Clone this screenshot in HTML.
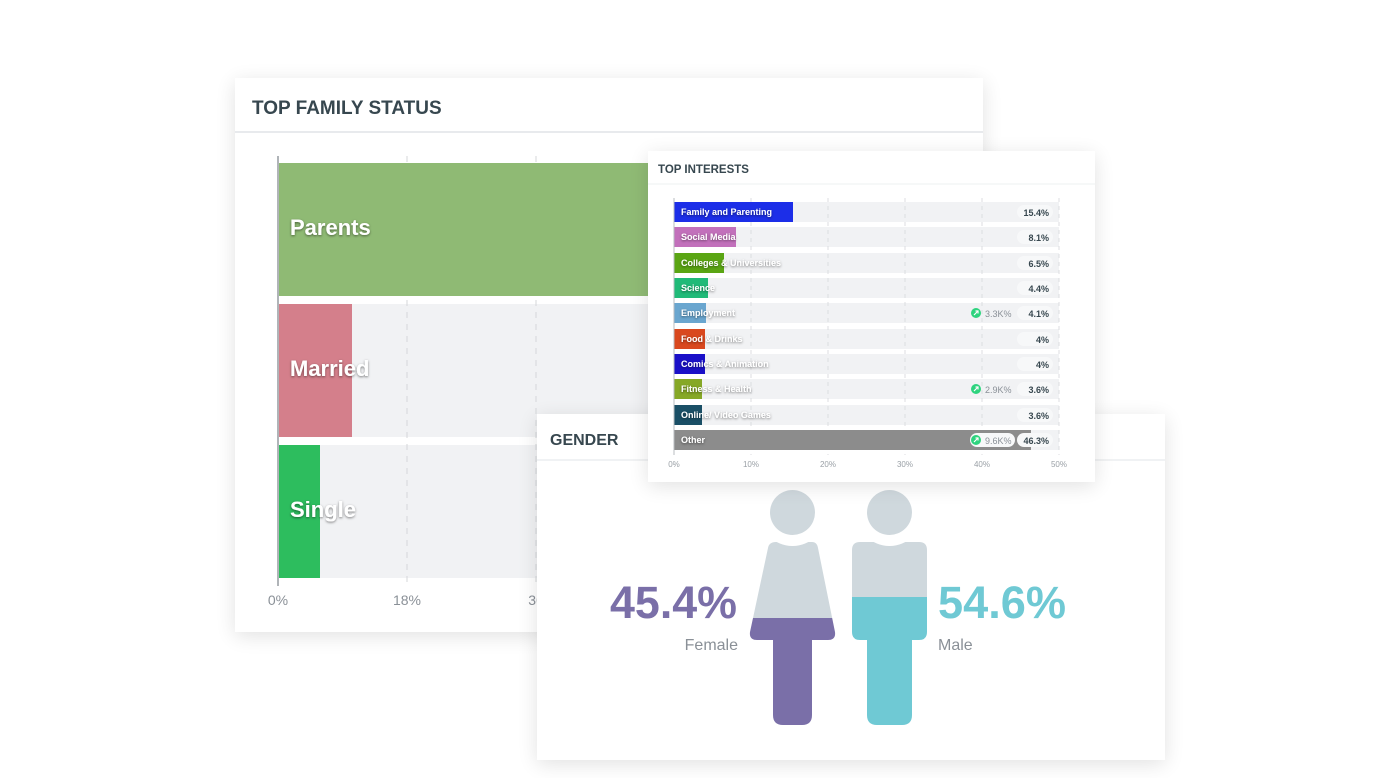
<!DOCTYPE html>
<html><head><meta charset="utf-8"><style>
html,body{margin:0;padding:0;background:#fff;}
svg{display:block;font-family:"Liberation Sans",Arial,sans-serif;}
</style></head><body>
<svg width="1400" height="778" viewBox="0 0 1400 778" xmlns="http://www.w3.org/2000/svg">
<defs>
<filter id="sh" x="-10%" y="-10%" width="120%" height="120%"><feGaussianBlur in="SourceAlpha" stdDeviation="10"/><feOffset dy="4"/><feComponentTransfer><feFuncA type="linear" slope="0.12"/></feComponentTransfer><feMerge><feMergeNode/><feMergeNode in="SourceGraphic"/></feMerge></filter>
<filter id="ts"><feDropShadow dx="0" dy="1" stdDeviation="1.2" flood-color="#000" flood-opacity="0.5"/></filter>
</defs>
<rect width="1400" height="778" fill="#fff"/>

<!-- Family status card -->
<g filter="url(#sh)"><rect x="235" y="78" width="748" height="554" fill="#fff"/></g>
<text x="252" y="114" font-size="19" font-weight="bold" fill="#37474f">TOP FAMILY STATUS</text>
<line x1="235" y1="132" x2="983" y2="132" stroke="#e8eaed" stroke-width="2"/>
<rect x="278" y="163" width="705" height="133" fill="#f1f2f4"/>
<rect x="278" y="304" width="705" height="133" fill="#f1f2f4"/>
<rect x="278" y="445" width="705" height="133" fill="#f1f2f4"/>
<g stroke="#d5d7da" stroke-dasharray="6,6"><line x1="407" y1="156" x2="407" y2="585"/><line x1="536" y1="156" x2="536" y2="585"/></g>
<rect x="278" y="163" width="400" height="133" fill="#8fba74"/>
<rect x="278" y="304" width="74" height="133" fill="#d47f8b"/>
<rect x="278" y="445" width="42" height="133" fill="#2dbd5e"/>
<line x1="278" y1="156" x2="278" y2="586" stroke="#b0b4b8" stroke-width="2"/>
<g font-size="22" font-weight="bold" fill="#fff" filter="url(#ts)"><text x="290" y="235">Parents</text><text x="290" y="376">Married</text><text x="290" y="517">Single</text></g>
<g font-size="14" fill="#8a9097" text-anchor="middle"><text x="278" y="605">0%</text><text x="407" y="605">18%</text><text x="536" y="605">36</text></g>

<!-- Gender card -->
<g filter="url(#sh)"><rect x="537" y="414" width="628" height="346" fill="#fff"/></g>
<text x="550" y="445" font-size="16" font-weight="bold" fill="#37474f">GENDER</text>
<line x1="537" y1="460" x2="1165" y2="460" stroke="#eceef0" stroke-width="1.5"/>
<clipPath id="fc"><path d="M776 542 L812 542 Q817 542 818 548 L835 632 Q836 640 828 640 L812 640 L812 715 Q812 725 802 725 L783 725 Q773 725 773 715 L773 640 L757 640 Q749 640 750 632 L768 548 Q769 542 776 542 Z"/></clipPath>
<g clip-path="url(#fc)"><rect x="740" y="530" width="110" height="88" fill="#cfd8dd"/><rect x="740" y="618" width="110" height="120" fill="#7a6fa8"/></g>
<clipPath id="mc"><path d="M860 542 L919 542 Q927 542 927 550 L927 632 Q927 640 919 640 L912 640 L912 715 Q912 725 902 725 L877 725 Q867 725 867 715 L867 640 L860 640 Q852 640 852 632 L852 550 Q852 542 860 542 Z"/></clipPath>
<g clip-path="url(#mc)"><rect x="845" y="530" width="90" height="67" fill="#cfd8dd"/><rect x="845" y="597" width="90" height="140" fill="#6fc9d4"/></g>
<circle cx="792.5" cy="513" r="33" fill="#fff"/><circle cx="889.5" cy="513" r="33" fill="#fff"/>
<circle cx="792.5" cy="512.5" r="22.5" fill="#cfd8dd"/><circle cx="889.5" cy="512.5" r="22.5" fill="#cfd8dd"/>
<text x="737" y="618" font-size="45" font-weight="bold" fill="#7a6fa8" text-anchor="end" textLength="127" lengthAdjust="spacingAndGlyphs">45.4%</text>
<text x="738" y="650" font-size="16" fill="#8a9097" text-anchor="end">Female</text>
<text x="938" y="618" font-size="45" font-weight="bold" fill="#6fc9d4" textLength="128" lengthAdjust="spacingAndGlyphs">54.6%</text>
<text x="938" y="650" font-size="16" fill="#8a9097">Male</text>

<!-- Top interests card -->
<g filter="url(#sh)"><rect x="648" y="151" width="447" height="331" fill="#fff"/></g>
<text x="658" y="173" font-size="11.5" font-weight="bold" fill="#37474f">TOP INTERESTS</text>
<line x1="648" y1="184" x2="1095" y2="184" stroke="#eef0f2" stroke-width="1"/>
<g fill="#f1f2f4">
<rect x="674" y="202" width="385" height="20"/><rect x="674" y="227" width="385" height="20"/><rect x="674" y="253" width="385" height="20"/><rect x="674" y="278" width="385" height="20"/><rect x="674" y="303" width="385" height="20"/><rect x="674" y="329" width="385" height="20"/><rect x="674" y="354" width="385" height="20"/><rect x="674" y="379" width="385" height="20"/><rect x="674" y="405" width="385" height="20"/><rect x="674" y="430" width="385" height="20"/>
</g>
<g stroke="#dcdee1" stroke-dasharray="4,4"><line x1="751" y1="198" x2="751" y2="455"/><line x1="828" y1="198" x2="828" y2="455"/><line x1="905" y1="198" x2="905" y2="455"/><line x1="982" y1="198" x2="982" y2="455"/><line x1="1059" y1="198" x2="1059" y2="455"/></g>
<rect x="674" y="202" width="119" height="20" fill="#1c2ee8"/>
<rect x="674" y="227" width="62" height="20" fill="#c270bb"/>
<rect x="674" y="253" width="50" height="20" fill="#5aa513"/>
<rect x="674" y="278" width="34" height="20" fill="#20ba78"/>
<rect x="674" y="303" width="32" height="20" fill="#6aa6cf"/>
<rect x="674" y="329" width="31" height="20" fill="#d9481e"/>
<rect x="674" y="354" width="31" height="20" fill="#1a10c8"/>
<rect x="674" y="379" width="28" height="20" fill="#86a826"/>
<rect x="674" y="405" width="28" height="20" fill="#1a4f66"/>
<rect x="674" y="430" width="357" height="20" fill="#8c8c8c"/>
<line x1="674" y1="198" x2="674" y2="455" stroke="#b8bcc0" stroke-width="1"/>
<g font-size="9" font-weight="bold" fill="#fff" filter="url(#ts)">
<text x="681" y="215">Family and Parenting</text><text x="681" y="240">Social Media</text><text x="681" y="266">Colleges &amp; Universities</text><text x="681" y="291">Science</text><text x="681" y="316">Employment</text><text x="681" y="342">Food &amp; Drinks</text><text x="681" y="367">Comics &amp; Animation</text><text x="681" y="392">Fitness &amp; Health</text><text x="681" y="418">Online/ Video Games</text><text x="681" y="443">Other</text>
</g>
<g fill="#f7f8f9"><rect x="1017" y="205" width="36" height="14" rx="7"/><rect x="1017" y="230" width="36" height="14" rx="7"/><rect x="1017" y="256" width="36" height="14" rx="7"/><rect x="1017" y="281" width="36" height="14" rx="7"/><rect x="1017" y="306" width="36" height="14" rx="7"/><rect x="1017" y="332" width="36" height="14" rx="7"/><rect x="1017" y="357" width="36" height="14" rx="7"/><rect x="1017" y="382" width="36" height="14" rx="7"/><rect x="1017" y="408" width="36" height="14" rx="7"/><rect x="1017" y="433" width="36" height="14" rx="7"/><rect x="970" y="433" width="45" height="14" rx="7"/></g>
<g font-size="9" font-weight="bold" fill="#37474f" text-anchor="end">
<text x="1049" y="216">15.4%</text><text x="1049" y="241">8.1%</text><text x="1049" y="267">6.5%</text><text x="1049" y="292">4.4%</text><text x="1049" y="317">4.1%</text><text x="1049" y="343">4%</text><text x="1049" y="368">4%</text><text x="1049" y="393">3.6%</text><text x="1049" y="419">3.6%</text><text x="1049" y="444">46.3%</text>
</g>
<g fill="#2ed37e"><circle cx="976" cy="313" r="5"/><circle cx="976" cy="389" r="5"/><circle cx="976" cy="440" r="5"/></g>
<g stroke="#fff" stroke-width="1.2"><path d="M974 315 L978 311 M975.5 311 H978 V313.5"/><path d="M974 391 L978 387 M975.5 387 H978 V389.5"/><path d="M974 442 L978 438 M975.5 438 H978 V440.5"/></g>
<g font-size="9" fill="#8a9097"><text x="985" y="317">3.3K%</text><text x="985" y="393">2.9K%</text><text x="985" y="444">9.6K%</text></g>
<g font-size="8" fill="#9aa0a6" text-anchor="middle"><text x="674" y="467">0%</text><text x="751" y="467">10%</text><text x="828" y="467">20%</text><text x="905" y="467">30%</text><text x="982" y="467">40%</text><text x="1059" y="467">50%</text></g>
</svg>
</body></html>
